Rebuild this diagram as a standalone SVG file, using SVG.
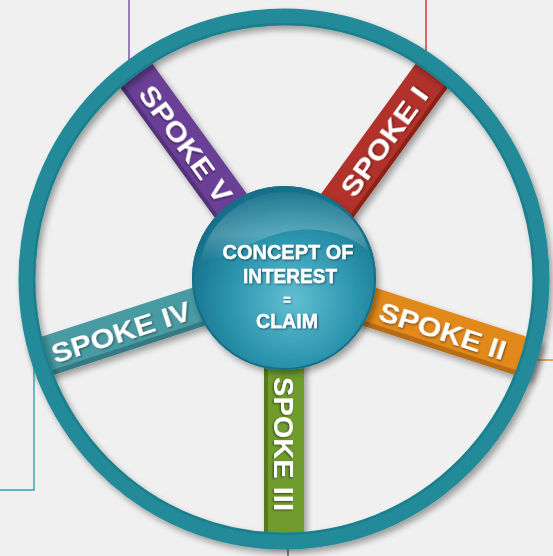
<svg xmlns="http://www.w3.org/2000/svg" width="553" height="556" viewBox="0 0 553 556">
  <defs>
    <style>
      .lbl { font-family: "Liberation Sans", Arial, sans-serif; font-weight: bold; font-size: 28px; fill: #ffffff; }
      .hub { font-family: "Liberation Sans Narrow", "Liberation Sans", Arial, sans-serif; font-weight: bold; fill: #ffffff; text-anchor: middle; stroke: #ffffff; stroke-width: 0.35; }
      .lead { fill: none; stroke-width: 1.4; }
    </style>
    <filter id="drop" x="-20%" y="-20%" width="140%" height="140%">
      <feGaussianBlur in="SourceAlpha" stdDeviation="3"/>
      <feOffset dx="3" dy="4" result="b"/>
      <feComponentTransfer><feFuncA type="linear" slope="0.35"/></feComponentTransfer>
      <feMerge><feMergeNode/><feMergeNode in="SourceGraphic"/></feMerge>
    </filter>
    <filter id="txt" x="-10%" y="-30%" width="120%" height="160%">
      <feGaussianBlur in="SourceAlpha" stdDeviation="0.8"/>
      <feOffset dx="0.5" dy="0.8"/>
      <feComponentTransfer><feFuncA type="linear" slope="0.5"/></feComponentTransfer>
      <feMerge><feMergeNode/><feMergeNode in="SourceGraphic"/></feMerge>
    </filter>
    <radialGradient id="hubFill" cx="0.55" cy="0.62" r="0.62">
      <stop offset="0" stop-color="#62bfd2"/>
      <stop offset="0.55" stop-color="#2c95ae"/>
      <stop offset="1" stop-color="#146d88"/>
    </radialGradient>
    <linearGradient id="gloss" x1="0" y1="0" x2="0" y2="1">
      <stop offset="0" stop-color="#ffffff" stop-opacity="0.05"/>
      <stop offset="0.6" stop-color="#ffffff" stop-opacity="0.22"/>
      <stop offset="1" stop-color="#ffffff" stop-opacity="0"/>
    </linearGradient>
  </defs>

  <rect width="553" height="556" fill="#f1f0f0"/>

  <!-- leader lines running off the wheel -->
  <g id="connectors">
    <line class="lead" x1="129" y1="0" x2="129" y2="70" stroke="#7a4aa0"/>
    <line class="lead" x1="426" y1="0" x2="426" y2="60" stroke="#cf2e28"/>
    <polyline class="lead" points="34,330 34,490 0,490" stroke="#2aa3ba"/>
    <line class="lead" x1="538" y1="360" x2="553" y2="360" stroke="#e2891c"/>
    <line class="lead" x1="288" y1="545" x2="288" y2="556" stroke="#3d6a5a"/>
  </g>

  <!-- spokes -->
  <g filter="url(#drop)">
    <g id="spoke-1" transform="translate(284,279) rotate(-54)">
      <rect x="80" y="-20" width="185" height="40" fill="#b1312a"/>
      <rect x="80" y="16" width="185" height="4" fill="#8c2319"/>
      <text class="lbl" x="106" y="10" textLength="128" lengthAdjust="spacingAndGlyphs" filter="url(#txt)">SPOKE I</text>
    </g>
    <g id="spoke-2" transform="translate(284,279) rotate(18)">
      <rect x="80" y="-20" width="185" height="40" fill="#e2891c"/>
      <rect x="80" y="15" width="185" height="5" fill="#b96c12"/>
      <text class="lbl" x="101" y="10" textLength="132" lengthAdjust="spacingAndGlyphs" filter="url(#txt)">SPOKE II</text>
    </g>
    <g id="spoke-3" transform="translate(284,279) rotate(90)">
      <rect x="80" y="-20" width="185" height="40" fill="#6f9c2f"/>
      <rect x="80" y="16" width="185" height="4" fill="#547a1f"/>
      <text class="lbl" x="98" y="10" textLength="134" lengthAdjust="spacingAndGlyphs" filter="url(#txt)">SPOKE III</text>
    </g>
    <g id="spoke-4" transform="translate(284,279) rotate(-18)">
      <rect x="-265" y="-20" width="185" height="40" fill="#4a9ba3"/>
      <rect x="-265" y="15" width="185" height="5" fill="#357a82"/>
      <text class="lbl" x="-244" y="10" textLength="145" lengthAdjust="spacingAndGlyphs" filter="url(#txt)">SPOKE IV</text>
    </g>
    <g id="spoke-5" transform="translate(284,279) rotate(54)">
      <rect x="-265" y="-20" width="185" height="40" fill="#6b3f97"/>
      <rect x="-265" y="16" width="185" height="4" fill="#52307a"/>
      <text class="lbl" x="-236" y="10" textLength="138" lengthAdjust="spacingAndGlyphs" filter="url(#txt)">SPOKE V</text>
    </g>
  </g>

  <!-- rim -->
  <g id="rim" filter="url(#drop)">
    <ellipse cx="284" cy="279" rx="257" ry="262" fill="none" stroke="#208a98" stroke-width="17"/>
    <ellipse cx="284" cy="279" rx="250" ry="255" fill="none" stroke="#1a7682" stroke-width="2" opacity="0.6"/>
  </g>

  <!-- hub -->
  <g id="hub">
    <circle cx="284" cy="278" r="92" fill="url(#hubFill)" filter="url(#drop)"/>
    <circle cx="284" cy="278" r="91" fill="none" stroke="#176f86" stroke-width="2"/>
    <path d="M200,262 C210,215 250,192 284,192 C330,192 362,220 368,250 C340,228 300,222 260,240 C235,251 215,262 200,262 Z" fill="url(#gloss)"/>
    <g filter="url(#txt)">
      <text class="hub" x="288" y="259" font-size="20.5" textLength="131" lengthAdjust="spacingAndGlyphs">CONCEPT OF</text>
      <text class="hub" x="290" y="282.5" font-size="20.5" textLength="94" lengthAdjust="spacingAndGlyphs">INTEREST</text>
      <text class="hub" x="287" y="304" font-size="13" stroke-width="0">=</text>
      <text class="hub" x="287" y="328" font-size="20.5" textLength="62" lengthAdjust="spacingAndGlyphs">CLAIM</text>
    </g>
  </g>
</svg>
